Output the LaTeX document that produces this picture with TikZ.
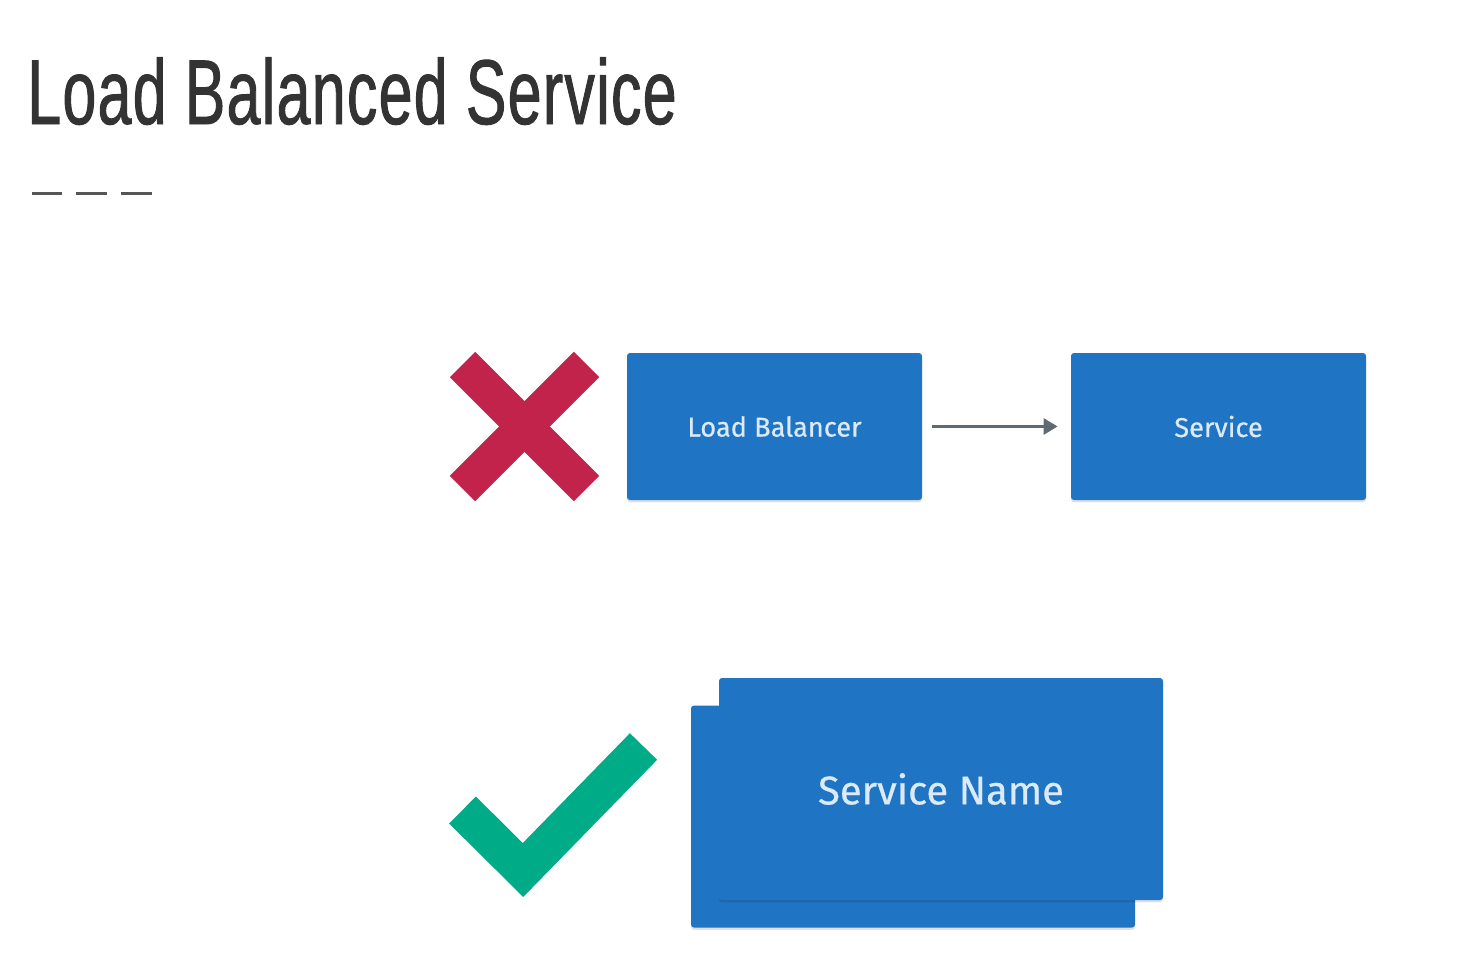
\documentclass[tikz,border=0pt]{standalone}
\usepackage{fontspec}
\setmainfont{Fira Sans}
\newfontfamily\titlefont[FakeStretch=0.66,FakeBold=1.0,LetterSpace=1.5]{Liberation Sans}
\newfontfamily\boxfont[FakeBold=0.5]{Fira Sans}
\usetikzlibrary{arrows.meta,shadows}
\definecolor{boxblue}{HTML}{1F75C4}
\definecolor{boxtext}{HTML}{DCEAF7}
\definecolor{xred}{HTML}{C1234A}
\definecolor{okgreen}{HTML}{00AC87}
\definecolor{arrowgray}{HTML}{5E6B75}
\definecolor{titlegray}{HTML}{333333}
\definecolor{dashgray}{HTML}{555555}
\tikzset{
  bluebox/.style={fill=boxblue, rounded corners=1.5pt, inner sep=0pt,
    text=boxtext, font=\boxfont,
    drop shadow={shadow xshift=0pt, shadow yshift=-1.2pt, opacity=0.12, fill=black}},
  smallbox/.style={bluebox, minimum width=147.5pt, minimum height=73.5pt,
    font=\boxfont\fontsize{13.6}{16}\selectfont},
  bigbox/.style={bluebox, minimum width=222pt, minimum height=111pt},
  flow/.style={draw=arrowgray, line width=1.5pt, -{Triangle[length=7pt,width=8pt]}},
  crossarm/.style={draw=xred, line width=18pt, line cap=butt},
  checkmark/.style={draw=okgreen, line width=19pt, line cap=butt, line join=miter},
  titledash/.style={draw=dashgray, line width=1.5pt}
}
\begin{document}
\begin{tikzpicture}[x=0.5pt, y=-0.5pt]
\useasboundingbox (0,0) rectangle (1475,975);
% title
\node[anchor=base west, inner sep=0pt, text=titlegray, font=\titlefont\fontsize{46}{50}\selectfont] (title) at (27,124) {Load Balanced Service};
\coordinate (d1a) at (32,193); \coordinate (d1b) at (62,193);
\coordinate (d2a) at (76,193); \coordinate (d2b) at (107,193);
\coordinate (d3a) at (121,193); \coordinate (d3b) at (152,193);
\draw[titledash] (d1a) -- (d1b);
\draw[titledash] (d2a) -- (d2b);
\draw[titledash] (d3a) -- (d3b);
% cross
\coordinate (xa1) at (462.5,364.5); \coordinate (xa2) at (586.5,488.5);
\coordinate (xb1) at (586.5,364.5); \coordinate (xb2) at (462.5,488.5);
\draw[crossarm] (xa1) -- (xa2);
\draw[crossarm] (xb1) -- (xb2);
% top row
\node[smallbox] (lb) at (774.5,426.5) {Load Balancer};
\node[smallbox] (svc) at (1218.5,426.5) {Service};
\draw[flow, shorten <=5pt, shorten >=6.5pt] (lb.east) -- (svc.west);
% check
\coordinate (c1) at (462.5,810);
\coordinate (c2) at (523,870);
\coordinate (c3) at (643.5,746.5);
\draw[checkmark] (c1) -- (c2) -- (c3);
% bottom boxes
\node[bigbox] (back) at (913,816.5) {};
\node[bigbox, font=\boxfont\fontsize{20}{24}\selectfont] (front) at (941,789) {Service Name};
\end{tikzpicture}
\end{document}
